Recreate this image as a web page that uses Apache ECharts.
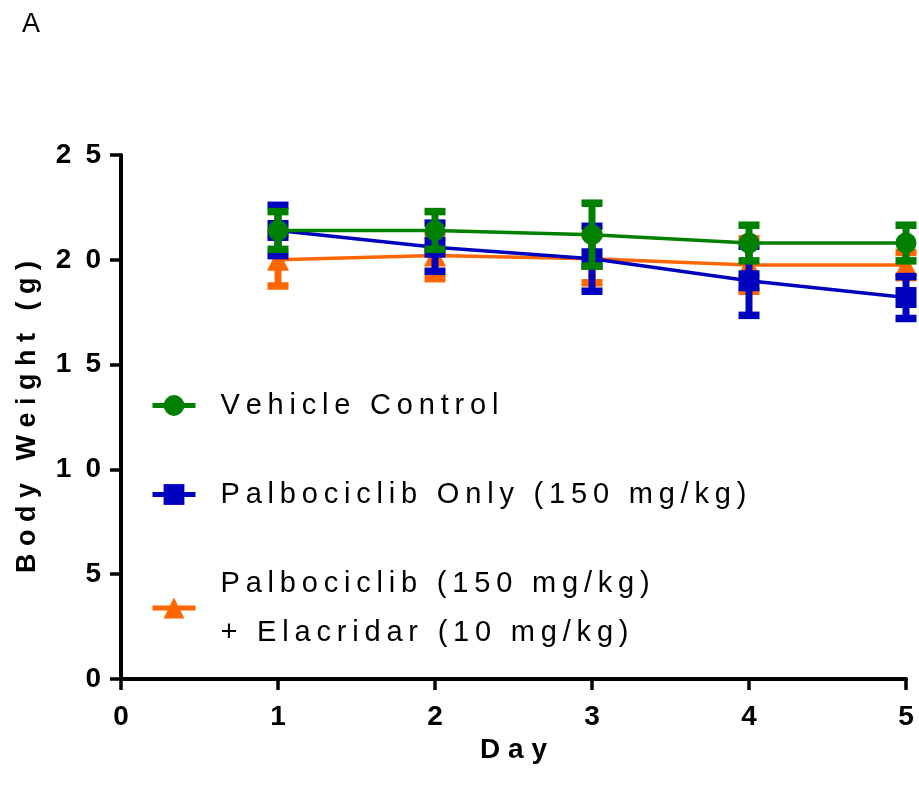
<!DOCTYPE html>
<html>
<head>
<meta charset="utf-8">
<script src="https://cdn.jsdelivr.net/npm/echarts@6/dist/echarts.min.js"></script>
<style>html,body{margin:0;padding:0;background:#fff}#c{width:919px;height:795px}</style>
</head>
<body>
<div id="c"></div>
<script>
// ---- data ----
const days = [1, 2, 3, 4, 5];
const vehicleMean = [21.4, 21.4, 21.2, 20.8, 20.8];
const vehicleSD   = [0.9, 0.9, 1.5, 0.85, 0.85];
const palboMean   = [21.4, 20.6, 20.05, 19.0, 18.2];
const palboSD     = [1.2, 1.15, 1.55, 1.65, 1.0];
const comboMean   = [20.0, 20.2, 20.05, 19.75, 19.75];
const comboSD     = [1.25, 1.1, 1.15, 1.25, 0.6];
const xTicks = [0, 1, 2, 3, 4, 5];
const yTicks = [0, 5, 10, 15, 20, 25];
const seriesNames = ['Vehicle Control', 'Palbociclib Only (150 mg/kg)', 'Palbociclib (150 mg/kg)\n+ Elacridar (10 mg/kg)'];
const colors = ['#008000', '#0000bf', '#ff6600'];
const symbols = ['circle', 'rect', 'triangle'];

const TS = '\u2009';
function spaced(s) {
  return s.split('\n').map(l => l.split('').join(TS)).join('\n');
}
function spacedWide(s) { return s.split('').join(' '); }
function spacedDigits(s) { return s.split('').join('\u2002'); }

function errData(mean, sd) {
  return days.map((d, i) => [d, mean[i] - sd[i], mean[i] + sd[i]]);
}
function lineData(mean) { return days.map((d, i) => [d, mean[i]]); }

function errSeries(name, mean, sd, color, z) {
  return {
    type: 'custom', name: name + ' err', z: z, silent: true, clip: false,
    data: errData(mean, sd),
    encode: { x: 0, y: [1, 2] },
    renderItem: function (params, api) {
      const x = api.value(0);
      const lo = api.coord([x, api.value(1)]);
      const hi = api.coord([x, api.value(2)]);
      const cw = 21, ch = 7.5;
      return {
        type: 'group',
        children: [
          { type: 'line', shape: { x1: lo[0], y1: lo[1], x2: hi[0], y2: hi[1] }, style: { stroke: color, lineWidth: 7 } },
          { type: 'rect', shape: { x: hi[0] - cw / 2, y: hi[1] - ch / 2, width: cw, height: ch }, style: { fill: color } },
          { type: 'rect', shape: { x: lo[0] - cw / 2, y: lo[1] - ch / 2, width: cw, height: ch }, style: { fill: color } }
        ]
      };
    }
  };
}
function lineSeries(name, mean, color, symbol, z) {
  return {
    type: 'line', name: name, z: z, clip: false,
    data: lineData(mean),
    symbol: symbol, symbolSize: symbol === 'triangle' ? 22 : 21,
    showAllSymbol: true,
    lineStyle: { color: color, width: 3.5 },
    itemStyle: { color: color, opacity: 1 },
    emphasis: { disabled: true },
    animation: false
  };
}

const chart = echarts.init(document.getElementById('c'));
const axisFont = { fontFamily: 'Liberation Sans', fontWeight: 'bold', fontSize: 28, color: '#000' };
chart.setOption({
  animation: false,
  backgroundColor: '#fff',
  title: { text: 'A', left: 17, top: 6, textStyle: { fontFamily: 'Liberation Sans', fontWeight: 'normal', fontSize: 27, color: '#000' } },
  grid: { left: 121, right: 13, top: 155, bottom: 116, containLabel: false },
  legend: {
    orient: 'vertical', left: 145, top: 376, itemGap: 40,
    itemWidth: 43, itemHeight: 26,
    data: seriesNames.slice(),
    formatter: function (n) { return spaced(n); },
    selectedMode: false,
    lineStyle: { width: 5 },
    textStyle: { fontFamily: 'Liberation Sans', fontSize: 29, color: '#000', lineHeight: 49, padding: [0, 0, 0, 20] }
  },
  xAxis: {
    type: 'value', min: 0, max: 5, interval: 1,
    name: spacedWide('Day'), nameLocation: 'middle', nameGap: 49,
    nameTextStyle: { fontFamily: 'Liberation Sans', fontWeight: 'bold', fontSize: 28, color: '#000' },
    axisLine: { show: true, onZero: false, lineStyle: { color: '#000', width: 4 } },
    axisTick: { show: true, inside: false, length: 11, lineStyle: { color: '#000', width: 3.5 } },
    axisLabel: Object.assign({ margin: 24, formatter: v => xTicks.includes(v) ? spacedDigits(String(v)) : '' }, axisFont),
    splitLine: { show: false }
  },
  yAxis: {
    type: 'value', min: 0, max: 25, interval: 5,
    name: spacedWide('Body Weight (g)'), nameLocation: 'middle', nameGap: 80, nameRotate: 90,
    nameTextStyle: { fontFamily: 'Liberation Sans', fontWeight: 'bold', fontSize: 27, color: '#000' },
    axisLine: { show: true, onZero: false, lineStyle: { color: '#000', width: 4 } },
    axisTick: { show: true, inside: false, length: 11, lineStyle: { color: '#000', width: 3.5 } },
    axisLabel: Object.assign({ margin: 20, formatter: v => yTicks.includes(v) ? spacedDigits(String(v)) : '' }, axisFont),
    splitLine: { show: false }
  },
  series: [
    errSeries(seriesNames[2], comboMean, comboSD, colors[2], 2),
    lineSeries(seriesNames[2], comboMean, colors[2], symbols[2], 3),
    errSeries(seriesNames[1], palboMean, palboSD, colors[1], 4),
    lineSeries(seriesNames[1], palboMean, colors[1], symbols[1], 5),
    errSeries(seriesNames[0], vehicleMean, vehicleSD, colors[0], 6),
    lineSeries(seriesNames[0], vehicleMean, colors[0], symbols[0], 7)
  ]
});
</script>
</body>
</html>
